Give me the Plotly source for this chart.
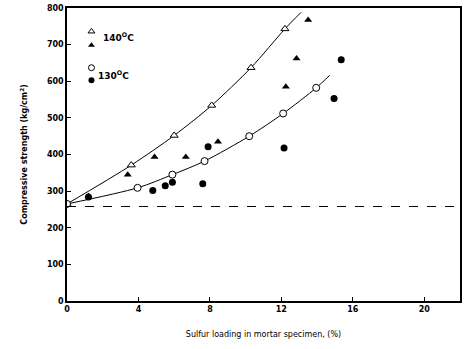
import plotly.graph_objects as go

# Compressive strength of sulfur-impregnated mortar vs. sulfur loading
# 140 °C series (open: fitted curve points, filled: individual specimens)
x140_open = [0, 3.6, 6.0, 8.1, 10.3, 12.2]
y140_open = [265, 371, 452, 534, 637, 743]
x140_fill = [1.2, 3.4, 4.9, 6.65, 8.45, 12.25, 12.85, 13.5]
y140_fill = [286, 345, 393, 393, 435, 585, 662, 767]
# fitted curve for 140 °C (extends past last open point)
x140_curve = [0, 3.6, 6.0, 8.1, 10.3, 12.2, 13.1]
y140_curve = [265, 371, 452, 534, 637, 743, 788]

# 130 °C series
x130_open = [0, 3.95, 5.9, 7.7, 10.2, 12.1, 13.95]
y130_open = [265, 309, 345, 382, 450, 512, 582]
x130_fill = [1.2, 4.8, 5.5, 5.9, 7.6, 7.9, 12.15, 14.95, 15.35]
y130_fill = [284, 302, 315, 324, 320, 421, 418, 553, 659]
x130_curve = [0, 3.95, 5.9, 7.7, 10.2, 12.1, 13.95, 14.7]
y130_curve = [265, 309, 345, 382, 450, 512, 582, 616]

baseline = 258  # strength of plain mortar

x_ticks = [0, 4, 8, 12, 16, 20]
y_ticks = [0, 100, 200, 300, 400, 500, 600, 700, 800]

# key placement (data units) and labels
key_x = 1.37
key_y = {"140_open": 736, "140_fill": 698, "130_open": 637, "130_fill": 603}
key_labels = [(1.9, 720, "<b>140<sup>O</sup>C</b>"), (1.6, 618, "<b>130<sup>O</sup>C</b>")]

FONT = "DejaVu Sans"
fig = go.Figure()

line_style = dict(color="black", width=1, shape="spline", smoothing=0.8)
fig.add_trace(go.Scatter(x=x140_curve, y=y140_curve, mode="lines", line=line_style))
fig.add_trace(go.Scatter(x=x130_curve, y=y130_curve, mode="lines", line=line_style))

sym_open_tri = dict(symbol="triangle-up", size=7, color="white", line=dict(color="black", width=1))
sym_fill_tri = dict(symbol="triangle-up", size=7, color="black")
sym_open_cir = dict(symbol="circle", size=7, color="white", line=dict(color="black", width=1))
sym_fill_cir = dict(symbol="circle", size=7, color="black")

fig.add_trace(go.Scatter(x=x140_open, y=y140_open, mode="markers", marker=sym_open_tri))
fig.add_trace(go.Scatter(x=x140_fill, y=y140_fill, mode="markers", marker=sym_fill_tri))
fig.add_trace(go.Scatter(x=x130_open, y=y130_open, mode="markers", marker=sym_open_cir))
fig.add_trace(go.Scatter(x=x130_fill, y=y130_fill, mode="markers", marker=sym_fill_cir))

# key symbols
for name, marker in [("140_open", sym_open_tri), ("140_fill", sym_fill_tri),
                     ("130_open", sym_open_cir), ("130_fill", sym_fill_cir)]:
    fig.add_trace(go.Scatter(x=[key_x], y=[key_y[name]], mode="markers",
                             marker=dict(marker, size=6)))
for lx, ly, txt in key_labels:
    fig.add_annotation(x=lx, y=ly, xanchor="left", text=txt, showarrow=False,
                       font=dict(size=9, color="black", family=FONT))

fig.add_shape(type="line", xref="paper", yref="y", x0=0, x1=1, y0=baseline, y1=baseline,
              line=dict(color="black", width=1.2, dash="dash"))

axis_common = dict(showgrid=False, zeroline=False, showline=True, linecolor="black",
                   linewidth=1.5, mirror=True, ticks="inside", ticklen=4,
                   tickcolor="black", tickfont=dict(size=8, color="black", family=FONT))

fig.update_xaxes(range=[0, 22], tickvals=x_ticks, ticktext=[f"<b>{t}</b>" for t in x_ticks],
                 title=dict(text="Sulfur loading in mortar specimen, (%)",
                            font=dict(size=8, color="black", family=FONT), standoff=18),
                 **axis_common)
fig.update_yaxes(range=[0, 800], tickvals=y_ticks, ticktext=[f"<b>{t}</b>" for t in y_ticks],
                 title=dict(text="<b>Compressive strength (kg/cm<sup>2</sup>)</b>",
                            font=dict(size=8, color="black", family=FONT), standoff=18),
                 **axis_common)

fig.update_layout(
    width=466, height=349, showlegend=False,
    margin=dict(l=67, r=4, t=8, b=48),
    plot_bgcolor="white", paper_bgcolor="white",
)

fig.write_html("out.html")
